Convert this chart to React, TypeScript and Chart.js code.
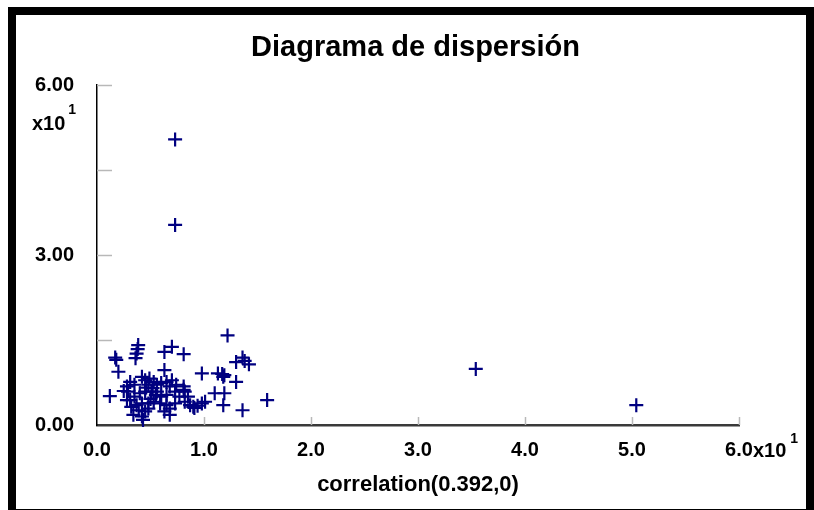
import React, { useEffect, useRef } from "react";
import { Chart, registerables } from "chart.js";

Chart.register(...registerables);

const FONT = "'Liberation Sans', Arial, sans-serif";

const chartTitle = "Diagrama de dispersión";
const xAxisTitle = "correlation(0.392,0)";
const exponentBase = "x10";
const exponentPower = "1";

// values in real units (axis labels are shown divided by 10)
const xValues: number[] = [
  7.3, 7.3, 35.4, 50.4, 12.2,
  3.85, 3.8, 3.7, 3.6, 1.7, 1.8, 2.0, 1.2, 6.3, 7.0, 8.1, 6.3, 8.1,
  9.8, 11.3, 11.7, 11.9, 11.8, 13.0, 11.0, 11.9, 11.8, 13.6, 15.9, 13.0, 13.6, 13.8, 14.2,
  8.7, 9.0, 9.1, 9.4, 9.8, 10.1,
  3.1, 2.8, 2.5, 2.9, 3.5, 4.2, 4.5, 4.9, 5.3, 4.8, 5.6, 6.0, 6.5, 7.0, 7.4, 6.8, 8.1, 8.2,
  8.5, 8.2, 7.7, 7.3, 6.5, 6.0, 5.6, 5.1, 4.5, 4.0, 3.5, 3.1, 2.8, 3.2, 3.7, 4.2, 4.8, 5.3,
  5.9, 6.5, 6.8, 6.3, 6.8, 3.4, 4.3, 4.2, 4.8, 3.9, 4.5, 7.3, 5.0, 5.5, 5.2, 4.6,
];
const yValues: number[] = [
  50.4, 35.3, 9.9, 3.5, 15.8,
  14.1, 13.4, 12.6, 11.8, 11.9, 11.5, 9.4, 5.1, 12.9, 13.8, 12.5, 9.7, 6.2,
  9.1, 9.1, 9.0, 8.8, 8.5, 7.6, 5.6, 5.6, 3.5, 2.6, 4.4, 11.1, 11.9, 11.3, 10.7,
  3.5, 3.2, 3.0, 3.4, 3.8, 4.1,
  7.6, 6.8, 6.0, 5.9, 7.1, 8.5, 7.9, 8.2, 7.6, 7.1, 7.1, 7.4, 7.6, 7.9, 7.1, 6.8, 6.8, 5.9,
  5.0, 4.1, 5.0, 5.9, 5.3, 5.0, 5.9, 5.9, 5.9, 5.6, 5.0, 4.4, 4.4, 3.2, 3.5, 3.8, 3.8, 4.1,
  3.8, 3.5, 2.9, 2.4, 1.8, 1.8, 0.9, 1.5, 2.9, 2.6, 2.4, 3.8, 4.6, 5.3, 6.5, 6.6,
];

const xMin = 0, xMax = 60, xStep = 10;
const yMin = 0, yMax = 60, yStep = 15, yLabelEvery = 30;

const innerTicks = {
  id: "innerTicks",
  beforeDatasetsDraw(chart: any) {
    const { ctx, chartArea } = chart;
    const xs = chart.scales.x, ys = chart.scales.y;
    ctx.save();
    ctx.strokeStyle = "#b8b8b8";
    ctx.lineWidth = 1.5;
    ys.ticks.forEach((t: any) => {
      if (t.value === yMin) return;
      const py = Math.round(ys.getPixelForValue(t.value)) + 0.5;
      ctx.beginPath();
      ctx.moveTo(chartArea.left, py);
      ctx.lineTo(chartArea.left + 15, py);
      ctx.stroke();
    });
    xs.ticks.forEach((t: any) => {
      if (t.value === xMin) return;
      const px = Math.round(xs.getPixelForValue(t.value)) + 0.5;
      ctx.beginPath();
      ctx.moveTo(px, chartArea.bottom);
      ctx.lineTo(px, chartArea.bottom - 8);
      ctx.stroke();
    });
    ctx.restore();
  },
};

const exponents = {
  id: "exponents",
  afterDraw(chart: any) {
    const { ctx } = chart;
    const xs = chart.scales.x, ys = chart.scales.y;
    ctx.save();
    ctx.fillStyle = "#000";
    ctx.textBaseline = "middle";
    ctx.textAlign = "left";
    // y axis exponent under top label
    ctx.font = `bold 20px ${FONT}`;
    const yTop = ys.getPixelForValue(yMax);
    ctx.fillText(exponentBase, 32, yTop + 39);
    const wY = ctx.measureText(exponentBase).width;
    ctx.font = `bold 14px ${FONT}`;
    ctx.fillText(exponentPower, 32 + wY + 3, yTop + 25);
    // x axis exponent after last label
    ctx.font = `bold 20px ${FONT}`;
    const lastLabel = (xMax / 10).toFixed(1);
    const px = xs.getPixelForValue(xMax) + ctx.measureText(lastLabel).width / 2;
    ctx.fillText(exponentBase, px, 451);
    const wX = ctx.measureText(exponentBase).width;
    ctx.font = `bold 14px ${FONT}`;
    ctx.fillText(exponentPower, px + wX + 4, 439);
    ctx.restore();
  },
};

export default function App() {
  const ref = useRef<HTMLCanvasElement | null>(null);
  useEffect(() => {
    if (!ref.current) return;
    const points = xValues.map((x, i) => ({ x, y: yValues[i] }));
    const chart = new Chart(ref.current, {
      type: "scatter",
      data: {
        datasets: [
          {
            data: points,
            pointStyle: "cross",
            pointRadius: 7,
            pointHoverRadius: 7,
            pointBorderWidth: 2.2,
            borderColor: "#000080",
            backgroundColor: "#000080",
            clip: false as any,
          },
        ],
      },
      options: {
        responsive: false,
        animation: false,
        events: [],
        layout: { padding: { left: 17, right: 0, top: 0, bottom: 0 } },
        plugins: {
          legend: { display: false },
          tooltip: { enabled: false },
          title: {
            display: true,
            text: chartTitle,
            color: "#000",
            font: { family: FONT, size: 29, weight: "bold", lineHeight: 1.2 },
            padding: { top: 30.6, bottom: 19.6 },
          },
        },
        scales: {
          x: {
            type: "linear",
            min: xMin,
            max: xMax,
            afterFit(s: any) {
              s.height = 85;
              s.paddingLeft = 0;
              s.paddingRight = 75;
              s.paddingTop = 0;
              s.paddingBottom = 0;
            },
            ticks: {
              stepSize: xStep,
              padding: 13,
              color: "#000",
              font: { family: FONT, size: 20, weight: "bold" },
              maxRotation: 0,
              autoSkip: false,
              callback: (v: any) => (Number(v) / 10).toFixed(1),
            },
            grid: { display: false, drawTicks: false },
            border: { display: true, color: "#3a3a3a", width: 2.5 },
            title: {
              display: true,
              text: xAxisTitle,
              color: "#000",
              font: { family: FONT, size: 22, weight: "bold", lineHeight: 1.2 },
              padding: { top: 0, bottom: 12 },
            },
          },
          y: {
            type: "linear",
            min: yMin,
            max: yMax,
            afterFit(s: any) {
              s.width = 80;
              s.paddingLeft = 0;
              s.paddingRight = 0;
              s.paddingTop = 0;
              s.paddingBottom = 0;
            },
            ticks: {
              stepSize: yStep,
              padding: 23,
              color: "#000",
              font: { family: FONT, size: 20, weight: "bold" },
              autoSkip: false,
              callback: (v: any) =>
                Number(v) % yLabelEvery === 0 ? (Number(v) / 10).toFixed(2) : "",
            },
            grid: { display: false, drawTicks: false },
            border: { display: true, color: "#000", width: 1.5 },
          },
        },
      },
      plugins: [innerTicks, exponents],
    });
    return () => chart.destroy();
  }, []);

  return (
    <div style={{ position: "fixed", left: 0, top: 0, width: 814, height: 510, background: "#fff" }}>
      <canvas ref={ref} width={814} height={510} style={{ display: "block" }} />
      <div
        style={{
          position: "fixed",
          left: 8,
          top: 7,
          width: 806,
          height: 510,
          border: "8px solid #000",
          boxSizing: "border-box",
          pointerEvents: "none",
        }}
      />
    </div>
  );
}
